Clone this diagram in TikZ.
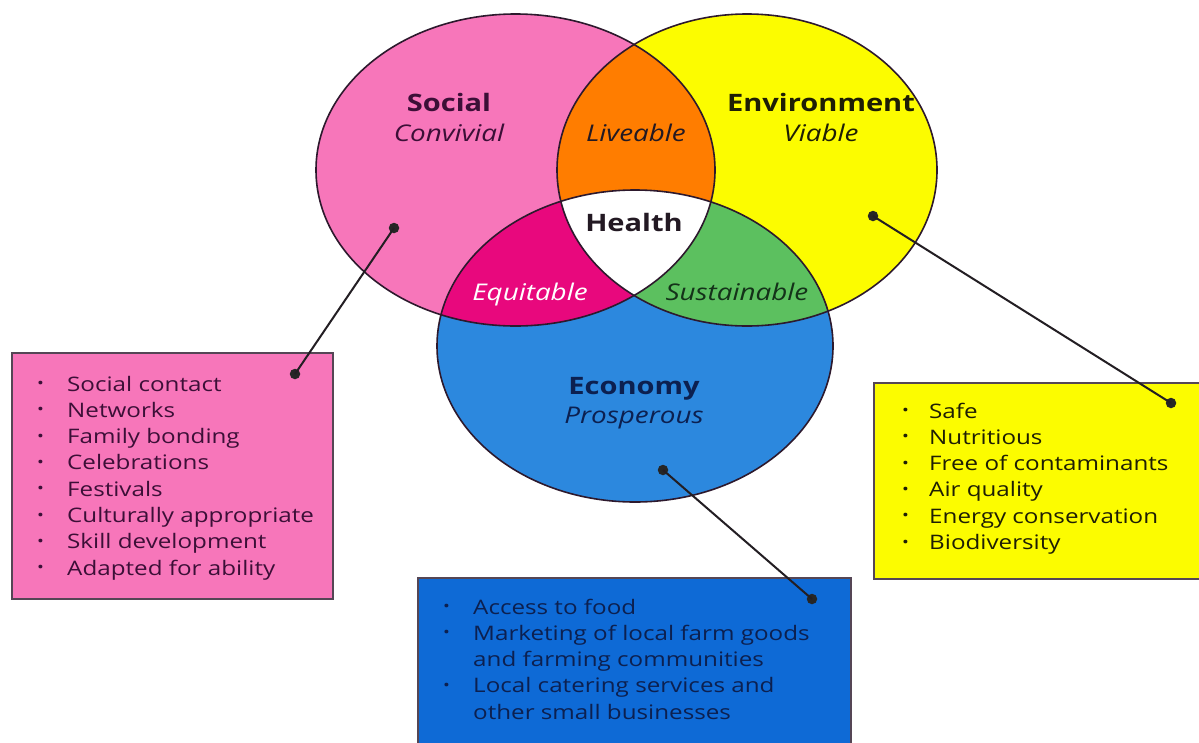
\documentclass[tikz,border=0pt]{standalone}
\usepackage{fontspec}
\setmainfont{Open Sans}[FakeStretch=1.21]
\definecolor{pinkc}{RGB}{247,118,186}
\definecolor{yellowc}{RGB}{252,252,0}
\definecolor{bluec}{RGB}{44,136,222}
\definecolor{orangec}{RGB}{255,125,0}
\definecolor{magc}{RGB}{232,8,125}
\definecolor{greenc}{RGB}{92,192,95}
\definecolor{boxblue}{RGB}{14,106,214}
\definecolor{outl}{RGB}{45,25,45}
\definecolor{pinktxt}{RGB}{60,15,55}
\definecolor{yeltxt}{RGB}{30,30,5}
\definecolor{bluetxt}{RGB}{12,32,80}
\definecolor{txtdark}{RGB}{35,25,35}
\definecolor{greentxt}{RGB}{20,50,25}
\definecolor{boxline}{RGB}{85,70,85}
\definecolor{linkc}{RGB}{35,30,35}
\newcommand\lbul[1]{\makebox[#1][l]{\raisebox{2.5pt}{\fontsize{15}{15}\selectfont •}}}
\begin{document}
\begin{tikzpicture}[x=1pt,y=-1pt,
  rS/.style={x radius=199.5pt, y radius=156pt},
  rY/.style={x radius=190pt, y radius=156pt},
  rB/.style={x radius=198pt, y radius=156pt},
  ring/.style={draw=outl, line width=1.6pt},
  head/.style={font=\fontsize{24}{28}\selectfont\bfseries, anchor=base, inner sep=0pt},
  sub/.style={font=\fontsize{23}{28}\selectfont\itshape, anchor=base, inner sep=0pt},
  listbox/.style={draw=boxline, line width=1.8pt},
  listtext/.style={anchor=base west, inner sep=0pt, font=\fontsize{20}{26.3}\selectfont, align=left},
  dot/.style={circle, fill=black!85, inner sep=0pt, minimum size=10.5pt},
  link/.style={draw=linkc, line width=2pt}]
\path[use as bounding box, fill=white] (0,0) rectangle (1199,742);
\coordinate (cS) at (515.5,170);
\coordinate (cY) at (747,170);
\coordinate (cB) at (635,346);
% base fills
\fill[pinkc] (cS) ellipse [rS];
\fill[yellowc] (cY) ellipse [rY];
\fill[bluec] (cB) ellipse [rB];
% pairwise overlaps
\begin{scope}
  \clip (cS) ellipse [rS];
  \fill[orangec] (cY) ellipse [rY];
  \fill[magc] (cB) ellipse [rB];
\end{scope}
\begin{scope}
  \clip (cY) ellipse [rY];
  \fill[greenc] (cB) ellipse [rB];
\end{scope}
\begin{scope}
  \clip (cS) ellipse [rS];
  \clip (cY) ellipse [rY];
  \fill[white] (cB) ellipse [rB];
\end{scope}
% outlines
\draw[ring] (cS) ellipse [rS];
\draw[ring] (cY) ellipse [rY];
\draw[ring] (cB) ellipse [rB];
% labels
\node[head, text=pinktxt] (social) at (449,111) {Social};
\node[sub, text=pinktxt] (convivial) at (449,141) {Convivial};
\node[sub, text=txtdark] (liveable) at (636,141) {Liveable};
\node[head, text=yeltxt] (env) at (821,111) {Environment};
\node[sub, text=yeltxt] (viable) at (821,141) {Viable};
\node[head, text=txtdark] (health) at (634,231) {Health};
\node[sub, text=white] (equit) at (530,300) {Equitable};
\node[sub, text=greentxt] (sust) at (737,300) {Sustainable};
\node[head, text=bluetxt] (economy) at (634,394) {Economy};
\node[sub, text=bluetxt] (prosp) at (634,423) {Prosperous};
% boxes
\draw[listbox, fill=pinkc] (12,353) rectangle (333,599);
\draw[listbox, fill=yellowc] (874,383) rectangle (1210,579);
\draw[listbox, fill=boxblue] (418,578) rectangle (851,760);
\node[listtext, text=pinktxt] (slist) at (37,391) {\begin{tabular}[t]{@{}l@{}}
\lbul{30pt}Social contact\\
\lbul{30pt}Networks\\
\lbul{30pt}Family bonding\\
\lbul{30pt}Celebrations\\
\lbul{30pt}Festivals\\
\lbul{30pt}Culturally appropriate\\
\lbul{30pt}Skill development\\
\lbul{30pt}Adapted for ability
\end{tabular}};
\node[listtext, text=yeltxt] (ylist) at (902,418) {\begin{tabular}[t]{@{}l@{}}
\lbul{27pt}Safe\\
\lbul{27pt}Nutritious\\
\lbul{27pt}Free of contaminants\\
\lbul{27pt}Air quality\\
\lbul{27pt}Energy conservation\\
\lbul{27pt}Biodiversity
\end{tabular}};
\node[listtext, text=bluetxt] (blist) at (443,614) {\begin{tabular}[t]{@{}l@{}}
\lbul{30pt}Access to food\\
\lbul{30pt}Marketing of local farm goods\\
\hspace*{30pt}and farming communities\\
\lbul{30pt}Local catering services and\\
\hspace*{30pt}other small businesses
\end{tabular}};
% dots and connectors
\node[dot] (ds) at (394,228) {};
\node[dot] (dsb) at (295,374) {};
\node[dot] (dy) at (873,216) {};
\node[dot] (dyb) at (1171,403) {};
\node[dot] (de) at (663,470) {};
\node[dot] (deb) at (812,599) {};
\draw[link] (ds.center) -- (dsb.center);
\draw[link] (dy.center) -- (dyb.center);
\draw[link] (de.center) -- (deb.center);
\end{tikzpicture}
\end{document}
